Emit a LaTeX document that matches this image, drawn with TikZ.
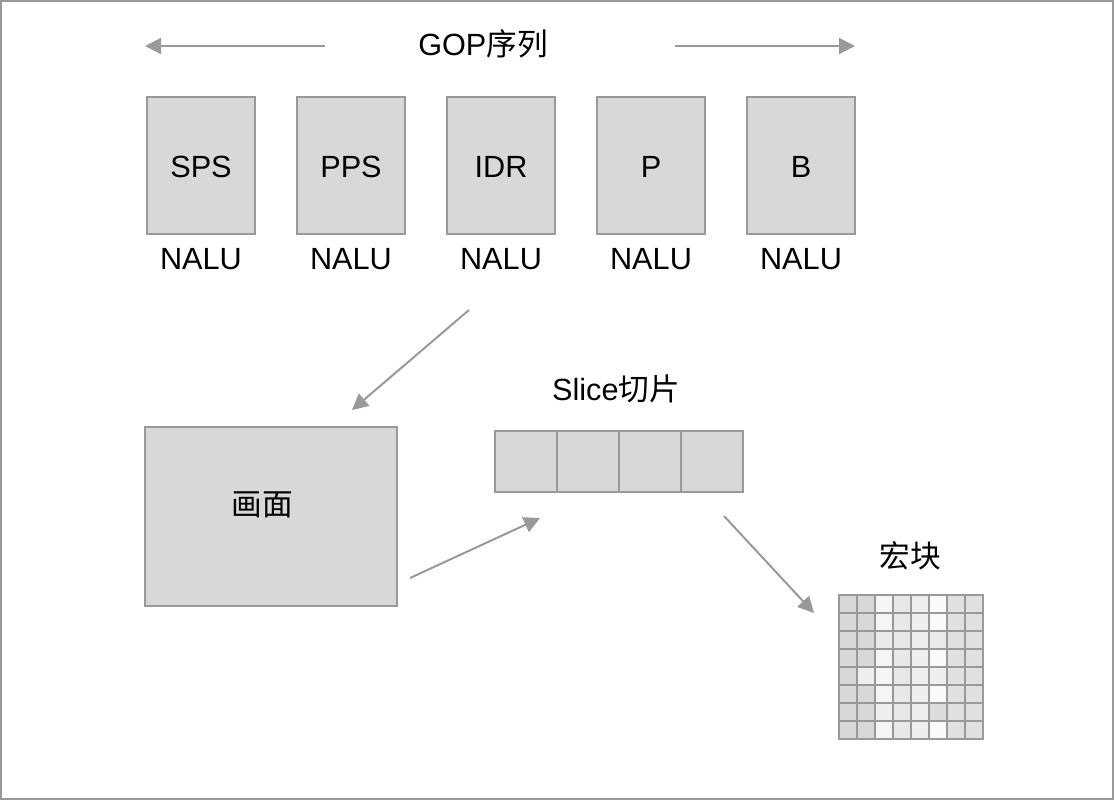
\documentclass[tikz,border=0pt]{standalone}
\usepackage{fontspec}
\setmainfont{Liberation Sans}
\newfontfamily\cjk{Noto Sans CJK SC}
\usetikzlibrary{arrows.meta}
\definecolor{lgray}{HTML}{999999}
\definecolor{boxfill}{HTML}{D8D8D8}
\begin{document}
\begin{tikzpicture}[x=0.75pt,y=-0.75pt,
  frame/.style={draw=lgray,line width=1.5pt},
  gbox/.style={draw=lgray,fill=boxfill,line width=1.5pt,anchor=north west,inner sep=0pt,outer sep=0pt},
  lbl/.style={font=\fontsize{23}{26}\selectfont,inner sep=0pt},
  conn/.style={draw=lgray,line width=1.5pt,-{Triangle[length=12pt,width=12pt]}},
  cell/.style={draw=lgray,line width=1.5pt}]
\useasboundingbox (0,0) rectangle (1114,800);
\draw[frame] (0.75,0.75) rectangle (1113.25,799.25);
% GOP label and arrows
\node[lbl] (gop) at (483,44) {GOP{\cjk 序列}};
\coordinate (la) at (325,46);
\coordinate (lb) at (145,46);
\coordinate (ra) at (675,46);
\coordinate (rb) at (855,46);
\draw[conn] (la) -- (lb);
\draw[conn] (ra) -- (rb);
% NALU boxes
\foreach \n/\t/\x in {sps/SPS/147,pps/PPS/297,idr/IDR/447,p/P/597,b/B/747}{
  \node[gbox,minimum width=81pt,minimum height=102.75pt] (\n) at (\x,97) {};
  \node[lbl] at (\x+54,167) {\t};
  \node[lbl] (\n l) at (\x+54,259) {NALU};
}
% picture box
\node[gbox,minimum width=189pt,minimum height=134.25pt] (pic) at (145,427) {};
\node[lbl] at (262,505) {\cjk 画面};
% slice
\node[lbl] (slbl) at (616,389) {Slice{\cjk 切片}};
\foreach \i in {0,1,2,3}{
  \node[gbox,minimum width=46.5pt,minimum height=45.75pt] (s\i) at (495+62*\i,431) {};
}
% macroblock
\node[lbl] (mlbl) at (910,556) {\cjk 宏块};
\foreach \r/\vals in {0/{D8D8D8,D8D8D8,F5F5F5,E8E8E8,EEEEEE,FAFAFA,E0E0E0,E0E0E0},
                      1/{D8D8D8,D8D8D8,F5F5F5,E8E8E8,EEEEEE,FAFAFA,E0E0E0,E0E0E0},
                      2/{D8D8D8,D8D8D8,EAEAEA,E8E8E8,EEEEEE,EAEAEA,E0E0E0,E0E0E0},
                      3/{D8D8D8,D8D8D8,F5F5F5,E8E8E8,EEEEEE,FAFAFA,E0E0E0,E0E0E0},
                      4/{D8D8D8,EEEEEE,F5F5F5,E8E8E8,EEEEEE,EEEEEE,E0E0E0,E0E0E0},
                      5/{D8D8D8,D8D8D8,F5F5F5,E8E8E8,EEEEEE,FAFAFA,E0E0E0,E0E0E0},
                      6/{D8D8D8,D8D8D8,EEEEEE,E8E8E8,EEEEEE,DCDCDC,E0E0E0,E0E0E0},
                      7/{D8D8D8,D8D8D8,F5F5F5,E8E8E8,EEEEEE,FAFAFA,E0E0E0,E0E0E0}}{
  \foreach \v [count=\c from 0] in \vals {
    \definecolor{cc}{HTML}{\v}
    \draw[cell,fill=cc] (839+18*\c,595+18*\r) rectangle ++(18,18);
  }
}
% connectors
\coordinate (a1s) at (469,310);
\coordinate (a1e) at (352,410);
\draw[conn] (a1s) -- (a1e);
\coordinate (a2s) at (410,578);
\coordinate (a2e) at (540,518);
\draw[conn] (a2s) -- (a2e);
\coordinate (a3s) at (724,516);
\coordinate (a3e) at (814,613);
\draw[conn] (a3s) -- (a3e);
\end{tikzpicture}
\end{document}
